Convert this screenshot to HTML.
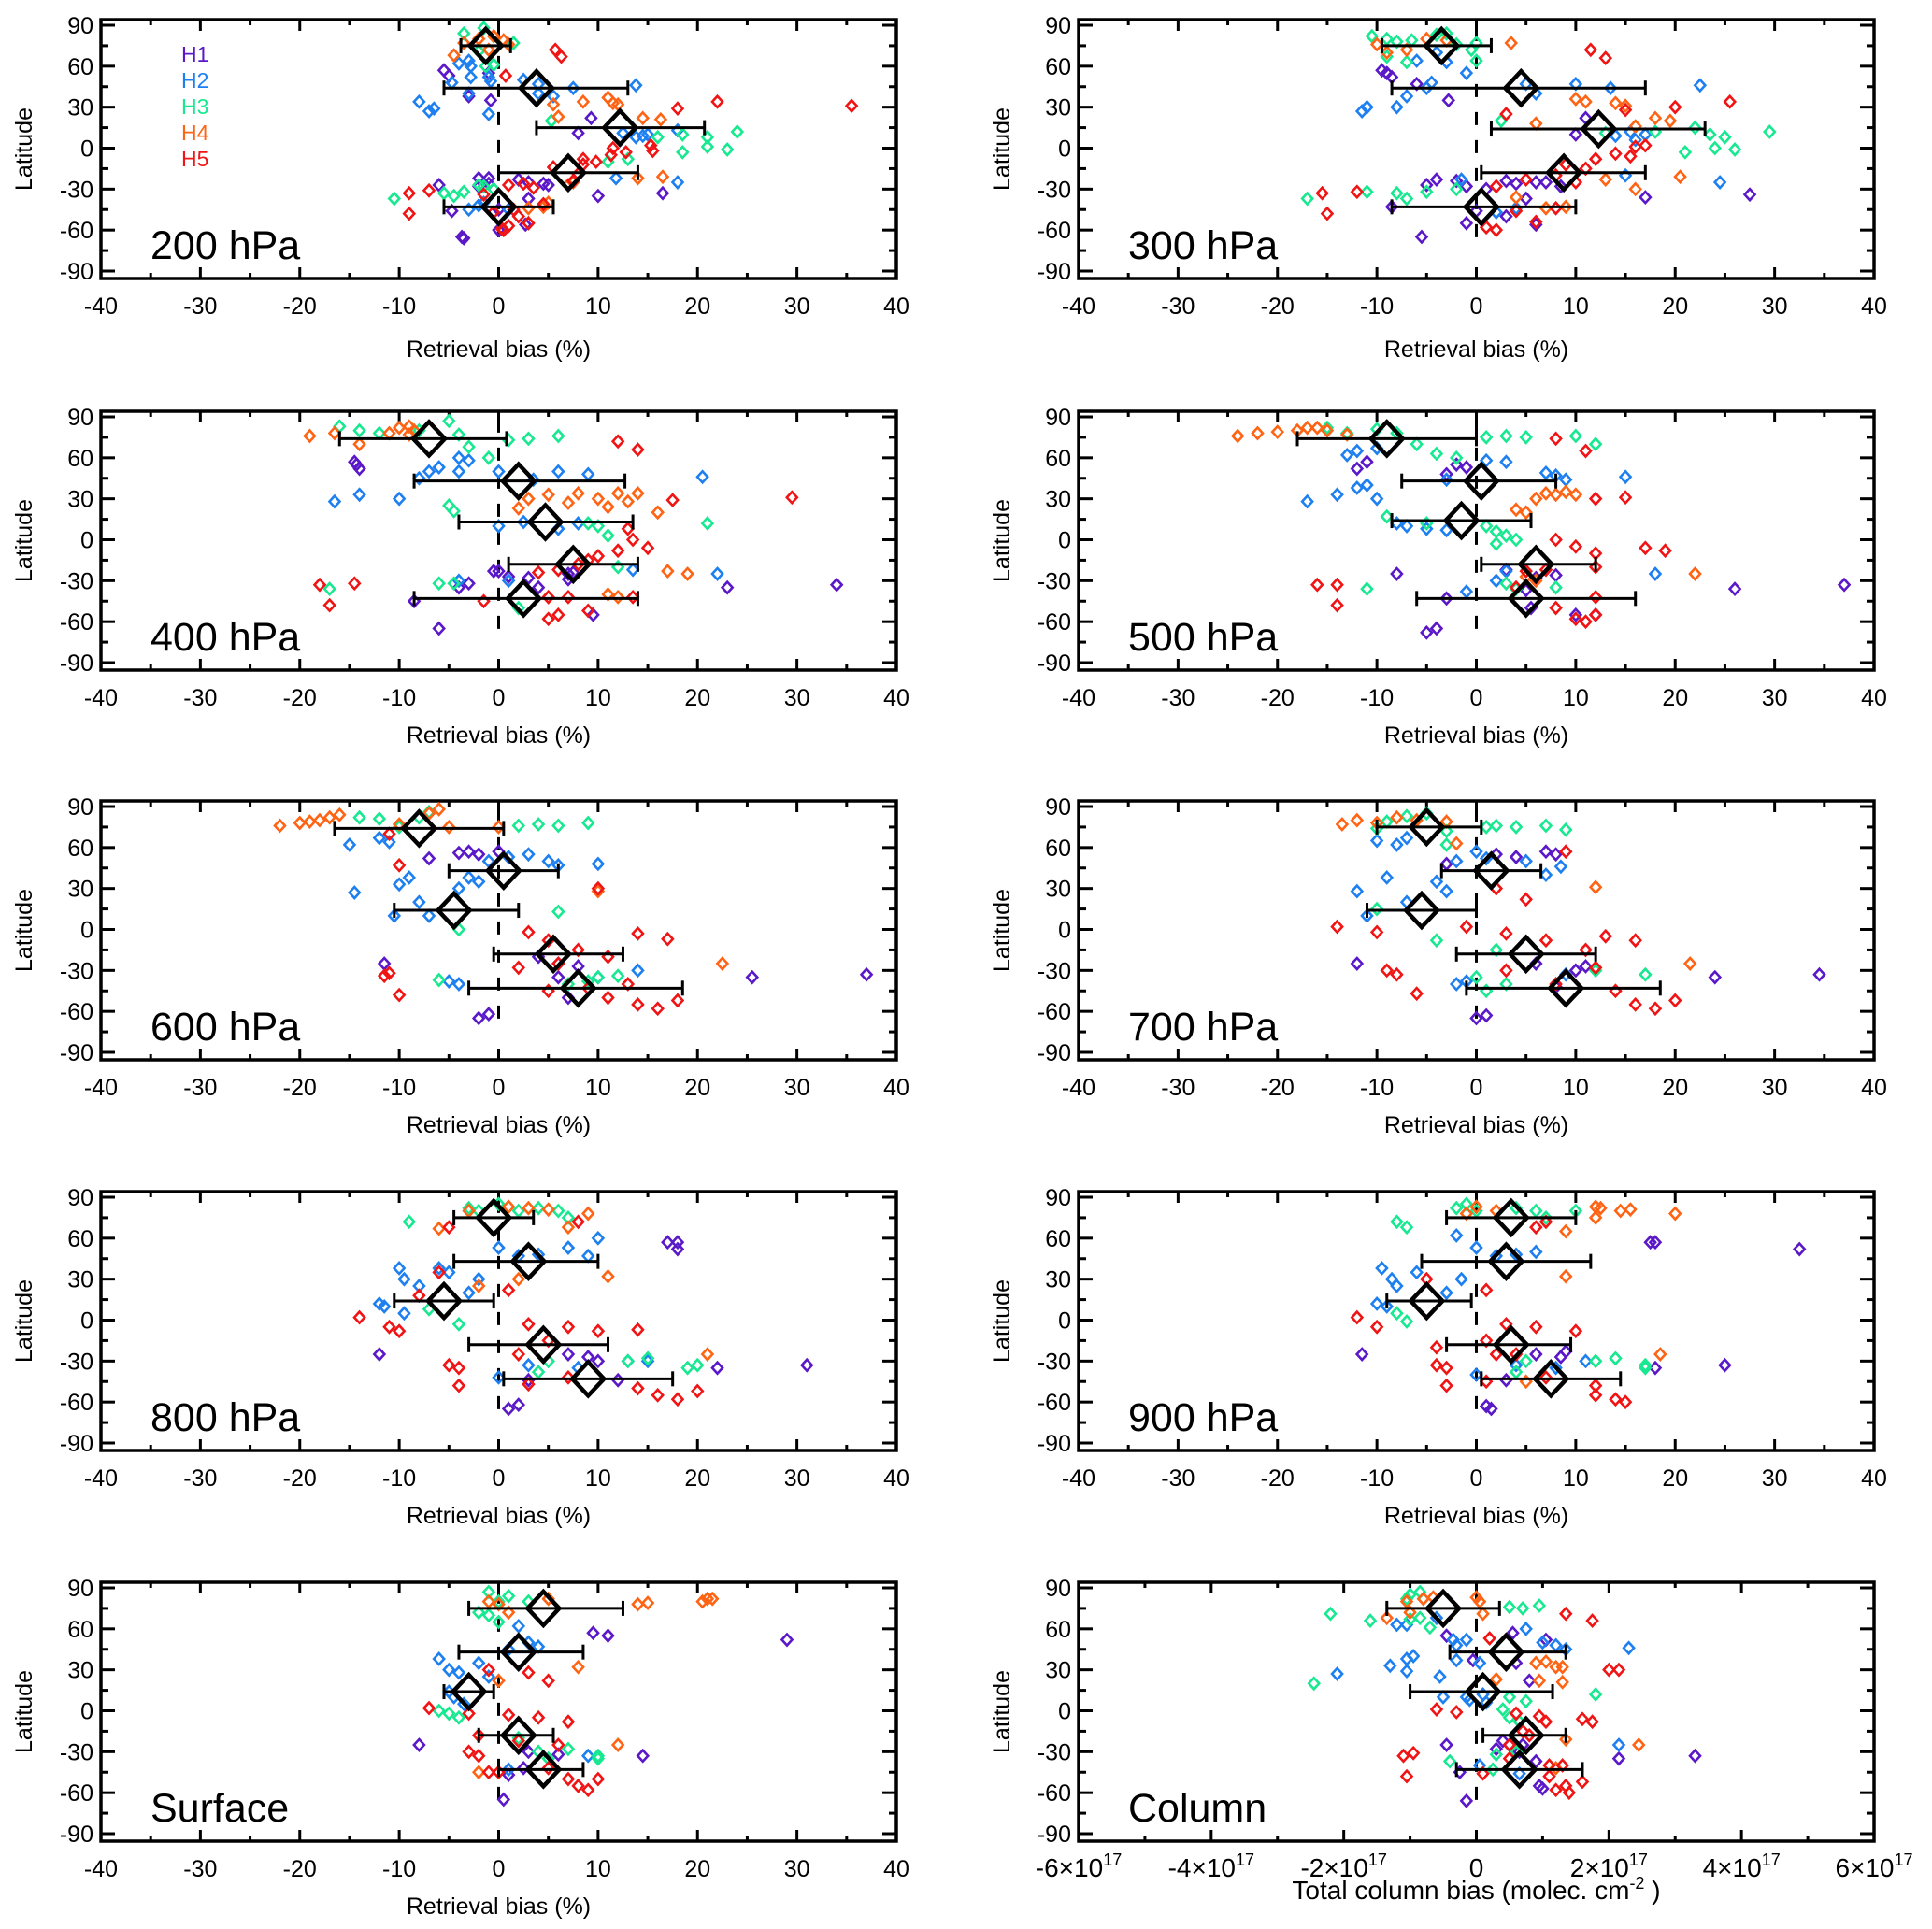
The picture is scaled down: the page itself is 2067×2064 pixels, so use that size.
<!DOCTYPE html>
<html><head><meta charset="utf-8">
<style>
html,body{margin:0;padding:0;background:#fff;}
svg{display:block;font-family:"Liberation Sans",Arial,sans-serif;}
</style></head>
<body>
<svg id="fig" width="2067" height="2064" viewBox="0 0 2067 2064" xmlns="http://www.w3.org/2000/svg"></svg>
<script>
// ---------- data ----------
const seriesNames = ["H1","H2","H3","H4","H5"];
const seriesColors = ["#5a18c8","#1e80f0","#18e890","#ff6414","#f01414"];
const panelTitles = ["200 hPa","300 hPa","400 hPa","500 hPa","600 hPa","700 hPa","800 hPa","900 hPa","Surface","Column"];
const xTicksBias = [-40,-30,-20,-10,0,10,20,30,40];
const xTicksCol = [-6,-4,-2,0,2,4,6];
const yTicks = [90,60,30,0,-30,-60,-90];

// means: [x, lat, errLow, errHigh]
const means200 = [[-1.3,75,-3.8,1.2],[3.8,44,-5.5,13],[12.2,15,3.8,20.7],[7,-18,0,14],[0,-43,-5.5,5.5]];
const h1_200 = [[-5.5,57],[-5,53],[-3,38],[-0.8,35],[-1,55],[9.3,22],[8,11],[-2,-22],[-1,-22],[2,-23],[3,-25],[4.5,-26],[5,-27],[-1,-26],[-6,-27],[-2,-28],[3,-37],[10,-35],[16.5,-33],[-4.7,-46],[0,-45],[2.7,-56],[-3.7,-65],[-3.5,-66],[0,-60]];
const h2_200 = [[-4,62],[-3,64],[-2.8,60],[-2.8,52],[-1,52],[-0.8,49],[-4.7,48],[-3,40],[-8,34],[-7,27],[-6.5,29],[-1,25],[2.5,50],[4,47],[4,40],[5.5,38],[7.5,44],[13.8,46],[12.5,11],[13.8,8],[14.5,9],[15,10],[18,13],[11.8,-22],[18,-25],[-2,-42],[1,-45],[-1.5,-40],[-3,-45]];
const h3_200 = [[-3.5,84],[-1.5,88],[1.5,77],[-1.3,60],[-0.5,61],[-2,71],[5.3,20],[16,8],[18.5,10],[21,8],[21,1],[24,12],[23,-1],[18.5,-3],[13,-8],[11,-10],[-10.5,-37],[-5.5,-33],[-4.5,-35],[-3.5,-32],[-1.5,-28],[-0.5,-30],[-2,-27]];
const h4_200 = [[-4.5,68],[-3.5,77],[-2,80],[-0.5,82],[0.5,79],[1,76],[-1,72],[5.5,32],[8.5,34],[11,37],[11.5,33],[12,32],[6,23],[14.5,22],[16.3,21],[16.5,-21],[14,-22],[7,-27],[7.5,-25],[3,-44],[4.5,-43],[5,-40],[3,-55]];
const h5_200 = [[5.7,72],[6.3,67],[0.7,53],[18,29],[22,34],[35.5,31],[15.3,2],[15.5,-2],[11.5,0],[11.3,-5],[12.8,-3],[8.5,-8],[9.8,-10],[8.5,-12],[5.5,-14],[8,-19],[7.5,-24],[2.5,-26],[1,-27],[3.5,-29],[-9,-33],[-7,-31],[-1.5,-34],[-9,-48],[1,-57],[0.5,-60],[2,-50],[4.5,-41],[-0.5,-47],[1.5,-45],[0.3,-59],[3,-55]];

const means300 = [[-3.5,75,-9.5,1.5],[4.5,44,-8.5,17],[12.3,14,1.5,23],[8.8,-18,0.5,17],[0.5,-43,-8.5,10]];
const h1_300 = [[-9.5,57],[-9,55],[-8.5,52],[-6,47],[-2.8,35],[11,22],[10,10],[17,-36],[27.5,-34],[-5,-27],[-4,-23],[-2,-24],[-1,-28],[1,-30],[3,-24],[4,-26],[6,-25],[7,-25],[8.5,-28],[5,-37],[-8.5,-43],[0,-46],[3,-50],[6,-56],[-5.5,-65],[-1,-55]];
const h2_300 = [[-11,30],[-11.5,27],[-8,30],[-7,38],[-5,44],[-4.5,48],[-6,64],[-4,70],[-3,63],[-1,55],[5,47],[6,40],[10,47],[13.5,44],[22.5,46],[14,9],[15.5,12],[16,6],[17,10],[24.5,-25],[15,-20],[-1.5,-23],[2,-47],[4,-44]];
const h3_300 = [[-10.5,82],[-9,80],[-8,78],[-6.5,79],[-4,83],[-3,84],[-2,76],[0,77],[-0.5,72],[0,64],[-7,63],[-9,67],[2.5,20],[13,11],[18,12],[22,15],[23.5,10],[25,8],[29.5,12],[21,-3],[24,0],[26,-1],[-17,-37],[-11,-32],[-8,-33],[-7,-37],[-5,-32],[-2,-30]];
const h4_300 = [[-10,76],[-9,70],[-7,72],[-5,80],[-3,79],[3.5,77],[10,36],[11,34],[14,33],[15,31],[18,22],[16,16],[19.5,20],[6,18],[20.5,-21],[13,-23],[16,-30],[4,-36],[7,-44],[9,-43]];
const h5_300 = [[11.5,72],[13,66],[3,25],[15,28],[20,30],[25.5,34],[16,1],[17,2],[14,-4],[15.5,-6],[12,-8],[9,-12],[11,-15],[8,-20],[5,-23],[10,-25],[2,-28],[-15.5,-33],[-12,-32],[-15,-48],[6,-54],[1,-58],[2,-60],[8,-44],[4,-46]];

const means400 = [[-7,74,-16,0.8],[2,43,-8.5,12.7],[4.7,13,-4,13.5],[7.5,-18,1,14],[2.5,-43,-8.5,14]];
const h1_400 = [[-14.5,57],[-14,52],[-14.3,55],[-3,-32],[-4,-35],[-0.5,-23],[0,-23],[1,-27],[3,-28],[7,-25],[7.5,-24],[7,-29],[-8.5,-45],[-6,-65],[9.5,-55],[23,-35],[34,-33],[4,-35]];
const h2_400 = [[-16.5,28],[-14,33],[-10,30],[-8,45],[-7,50],[-6,53],[-4,50],[-3,58],[-4,60],[0,50],[3.5,44],[6,50],[9,48],[20.5,46],[0,10],[2.5,13],[6,8],[8,12],[22,-25],[13.5,-22],[-4,-30],[1,-30]];
const h3_400 = [[-16,83],[-14,80],[-12,78],[-8,80],[-5,87],[-4,77],[-3,68],[-1,60],[1,73],[3,74],[6,76],[-5,25],[-4.5,21],[9,12],[10,10],[11,3],[21,12],[-17,-36],[-6,-32],[-4.5,-32],[2,-50],[12,-20]];
const h4_400 = [[-19,76],[-16.5,78],[-14,70],[-11,78],[-10,82],[-9,83],[-8.5,80],[-9,77],[2,23],[3,30],[5,33],[7,27],[8,34],[10,30],[11,24],[12,34],[13,28],[14,34],[16,20],[17,-23],[19,-25],[11,-40],[12,-42],[5,-42]];
const h5_400 = [[12,72],[14,66],[17.5,29],[29.5,31],[13,8],[13.5,0],[15,-6],[12,-8],[10,-12],[9,-15],[8,-18],[6,-22],[4,-24],[-18,-33],[-14.5,-32],[-17,-48],[5,-42],[7,-42],[6,-55],[5,-58],[9,-52],[13.5,-42],[-1.5,-45]];

const means500 = [[-9,74,-18,0],[0.5,43,-7.5,8],[-1.5,14,-8.5,5.5],[6,-18,0.5,12],[5,-43,-6,16]];
const h1_500 = [[-12,52],[-11,57],[-3,48],[-2,55],[-1,53],[-8,-25],[3,-22],[6,-28],[8,-26],[5,-37],[5.5,-50],[-4,-65],[-5,-68],[10,-55],[12,-55],[26,-36],[37,-33],[-3,-43]];
const h2_500 = [[-17,28],[-14,33],[-12,38],[-10,30],[-11,40],[-13,62],[-12,65],[-10,67],[-3,44],[1,58],[3,57],[7,49],[8,47],[9,44],[15,46],[-8,12],[-7,10],[-5,8],[-3,7],[18,-25],[3,-23],[2,-30],[-1,-38]];
const h3_500 = [[-15,82],[-13,78],[-10,81],[-8,78],[-6,70],[-4,63],[-2,60],[1,75],[3,76],[5,75],[10,76],[12,70],[-9,17],[-5,12],[1,10],[2,6],[3,3],[4,0],[2,-3],[-11,-36],[3,-32],[4,-36],[8,-35]];
const h4_500 = [[-24,76],[-22,78],[-20,79],[-18,80],[-17,82],[-16,82],[-15,80],[-13,77],[4,22],[5,20],[6,30],[7,34],[8,33],[9,35],[10,33],[22,-25],[5,-27],[6,-30]];
const h5_500 = [[11,65],[8,74],[12,30],[15,31],[8,0],[10,-5],[12,-10],[17,-6],[19,-8],[12,-20],[7,-22],[5,-23],[-14,-33],[-16,-33],[-14,-48],[10,-58],[11,-60],[12,-55],[8,-50],[12,-42],[4,-35]];

const means600 = [[-8,74,-16.5,0.5],[0.5,43,-5,6],[-4.5,14,-10.5,2],[5.5,-18,-0.5,12.5],[8,-43,-3,18.5]];
const h1_600 = [[-7,52],[-4,56],[-3,57],[-2,55],[0,57],[-2,-65],[-1,-62],[-11.5,-25],[4,-20],[6,-25],[8,-27],[6,-35],[25.5,-35],[37,-33],[7,-50]];
const h2_600 = [[-15,62],[-12,67],[-11,64],[-14.5,27],[-10,33],[-9,38],[-8,20],[-7,10],[-10.5,10],[-4,30],[-3,38],[-2,35],[-1,50],[1,53],[3,55],[5,50],[6,47],[10,48],[-5,-38],[-4,-40],[14,-30],[10,-35]];
const h3_600 = [[-14,82],[-12,81],[-10,75],[-8,82],[-7,86],[2,76],[4,77],[6,76],[9,78],[6,13],[-4,0],[10,-35],[12,-34],[9,-38],[7,-40],[-6,-37]];
const h4_600 = [[-22,76],[-20,78],[-19,79],[-18,80],[-17,82],[-16,84],[-10,77],[-7,85],[-6,88],[-5,75],[0,75],[10,28],[22.5,-25]];
const h5_600 = [[-11,70],[-10,47],[-11,-32],[-11.5,-34],[-10,-48],[3,-2],[5,-8],[8,-15],[11,-20],[14,-3],[17,-7],[6,-25],[13,-40],[14,-55],[16,-58],[18,-52],[10,30],[11,-50],[9,-43],[2,-28],[5,-45]];

const means700 = [[-5,75,-10,0.5],[1.5,43,-3.5,6.5],[-5.5,14,-11,0],[5,-18,-2,12],[9,-43,-1,18.5]];
const h1_700 = [[-3,48],[2,55],[4,53],[7,57],[8,55],[0,-65],[1,-63],[-12,-25],[6,-25],[10,-30],[11,-27],[24,-35],[34.5,-33],[8,-42]];
const h2_700 = [[-10,65],[-8,62],[-7,67],[-12,28],[-11,10],[-9,38],[-7,20],[-4,35],[-3,28],[-2,50],[0,57],[1,52],[5,50],[8.5,46],[7,40],[-2,-40],[-1,-38],[9,-33]];
const h3_700 = [[-10,74],[-9,79],[-7,83],[-5,85],[-3,72],[1,75],[2,76],[4,75],[7,76],[9,73],[-4,-8],[2,-15],[0,-35],[12,-30],[17,-33],[1,-45],[3,-40],[-3,62],[-10,15]];
const h4_700 = [[-13.5,77],[-12,80],[-10,78],[-8,82],[-6,80],[-3,79],[12,31],[21.5,-25],[-2,63]];
const h5_700 = [[-14,2],[-10,-2],[-9,-30],[-8,-33],[-6,-47],[3,-3],[7,-8],[11,-15],[13,-5],[16,-8],[12,-28],[14,-45],[16,-55],[18,-58],[20,-52],[8,-40],[3,-30],[9,57],[2,30],[5,22],[-1,2]];

const means800 = [[-0.5,75,-4.5,3.5],[3,43,-4.5,10],[-5.5,14,-10.5,-0.5],[4.5,-18,-3,11],[9,-43,0.5,17.5]];
const h1_800 = [[17,57],[18,57],[18,52],[-12,-25],[2,-62],[1,-65],[7,-25],[9,-27],[10,-30],[22,-35],[31,-33],[3,-44],[12,-44]];
const h2_800 = [[-10,38],[-9.5,30],[-8,25],[-12,12],[-11.5,10],[-9.5,5],[-6,38],[-5,35],[-3,20],[-2,30],[0,53],[2,47],[4,48],[7,53],[10,60],[9,47],[3,-33],[8,-35],[13,-30],[15,-30],[0,-42]];
const h3_800 = [[-9,72],[-3,82],[-2,80],[0,85],[2,80],[4,82],[6,80],[7,75],[-7,8],[-4,-3],[13,-30],[15,-28],[19,-35],[20,-33],[4,-38],[5,-30]];
const h4_800 = [[-6,67],[-3,80],[1,83],[3,82],[5,81],[7,68],[9,78],[11,32],[21,-25],[2,30],[-2,25]];
const h5_800 = [[-14,2],[-11,-5],[-10,-8],[-8,18],[-5,-33],[-4,-35],[-4,-48],[-6,35],[3,-3],[7,-5],[10,-8],[14,-7],[5,-15],[2,-25],[14,-50],[16,-55],[18,-58],[20,-52],[7,-42],[3,-47],[8,72],[-5,68],[1,22]];

const means900 = [[3.5,75,-3,10],[3,43,-5.5,11.5],[-5,14,-9,-0.5],[3.5,-18,-3,9.5],[7.5,-43,0.5,14.5]];
const h1_900 = [[17.5,57],[18,57],[32.5,52],[-11.5,-25],[1,-63],[1.5,-65],[6,-25],[8.5,-27],[9,-23],[25,-33],[18,-35],[3,-44]];
const h2_900 = [[-9.5,38],[-8.5,30],[-8,25],[-10,12],[-9,10],[-6,35],[-3,20],[-1.5,30],[0,53],[2,47],[4,48],[6,50],[-2,62],[4,-33],[8,-35],[11,-30],[0,-40]];
const h3_900 = [[-8,72],[-7,68],[-2,82],[-1,85],[0,80],[4,82],[6,80],[10,80],[7,75],[-8,5],[-7,-1],[12,-30],[14,-28],[17,-35],[17,-33],[4,-38],[5,-30]];
const h4_900 = [[-1,78],[0,83],[2,80],[12,83],[12.5,82],[14.5,80],[15.5,81],[20,78],[12,75],[9,65],[9,32],[18.5,-25],[5,-45]];
const h5_900 = [[-12,2],[-10,-5],[-4,-33],[-3,-35],[-3,-48],[-4,-20],[3,-3],[6,-5],[10,-8],[1,-15],[2,-25],[12,-55],[14,-58],[15,-60],[12,-48],[7,-42],[1,-45],[7,72],[6,68],[1,22],[-5,30],[4,-25]];

const meansSfc = [[4.5,75,-3,12.5],[2,43,-4,8.5],[-3,14,-5.5,-0.5],[2,-18,-2,5.5],[4.5,-43,0,8.5]];
const h1_sfc = [[9.5,57],[11,55],[29,52],[-8,-25],[0.5,-65],[1,-47],[3,-30],[6,-32],[14.5,-33],[2.5,-42]];
const h2_sfc = [[-6,38],[-5,30],[-4,28],[-5,14],[-4.5,10],[-3.5,5],[-2,35],[1,45],[3,50],[4,47],[2,62],[-1,25],[9,-33],[1,-43]];
const h3_sfc = [[-1,87],[0,80],[1,84],[3,80],[-2,72],[-1,70],[0,65],[-6,0],[-5,-2],[-4,-5],[4,-30],[7,-28],[10,-33],[10,-35],[2,-20],[5,-35]];
const h4_sfc = [[-1,80],[0,78],[5,82],[14,78],[15,79],[20.5,80],[21,82],[21.5,82],[1,72],[8,32],[0,22],[12,-25],[-2,-45]];
const h5_sfc = [[-7,2],[-3,-2],[-3,-30],[-2,-33],[-1,-45],[-2,-18],[1,-3],[4,-5],[7,-8],[2,-22],[6,-25],[7,-50],[8,-55],[9,-58],[10,-50],[5,-42],[0,-45],[5,22],[-1,30],[3,28]];

// column values in units of 1e17 molec cm-2
const meansCol = [[-0.5,75,-1.35,0.35],[0.45,43,-0.4,1.35],[0.1,14,-1,1.15],[0.75,-18,0.1,1.35],[0.65,-43,-0.3,1.6]];
const h1_col = [[0.55,57],[1.05,52],[-0.45,55],[-0.05,37],[0.6,35],[0.8,22],[0.4,-22],[0.5,-25],[0.7,-25],[0.3,-28],[0.9,-37],[2.15,-35],[3.3,-33],[-0.45,-25],[-0.25,-45],[0.95,-55],[1,-57],[-0.15,-66],[0.65,-30]];
const h2_col = [[-1.2,63],[-1.05,63],[-0.6,68],[-0.35,52],[-0.3,48],[-0.15,52],[0.75,60],[1,50],[1.2,48],[1.35,45],[2.3,46],[-1.3,33],[-1.05,38],[-0.95,40],[-1.05,29],[-0.3,37],[0.05,35],[-2.1,27],[-0.55,25],[-0.5,10],[-0.15,10],[-0.1,8],[0.1,12],[0.15,6],[2.15,-25],[0.05,-40],[0.65,-46]];
const h3_col = [[-2.2,71],[-1.6,66],[-1,67],[-0.7,61],[-0.85,68],[-1.05,82],[-1,85],[-0.85,87],[0.5,76],[0.7,75],[0.95,77],[-2.45,20],[1.8,12],[0.5,10],[0.75,7],[0.4,1],[0.5,-5],[0.65,-8],[0.3,-32],[-0.4,-37],[0.25,-43],[0.6,-30]];
const h4_col = [[-1.35,68],[-1,72],[-1.05,80],[-0.8,82],[-0.65,83],[0,83],[0.05,80],[0.1,71],[1.05,36],[1.2,32],[0.9,35],[1.3,32],[0.95,22],[1.3,21],[0.3,23],[1.35,-21],[2.45,-25],[1.2,-42]];
const h5_col = [[1.35,71],[1.75,66],[0.2,53],[2,30],[2.15,30],[-0.6,1],[-0.3,-1],[0.6,-2],[0.95,-4],[1.05,-8],[1.6,-6],[1.75,-8],[0.7,-15],[0.8,-18],[0.5,-25],[-1.1,-33],[-0.95,-31],[-1.05,-48],[0.1,-46],[1.1,-40],[1.3,-40],[1.1,-48],[1.2,-58],[1.4,-60],[1.35,-55],[1.6,-52],[0.5,-35]];

const panelSeries = [
 [h1_200,h2_200,h3_200,h4_200,h5_200],[h1_300,h2_300,h3_300,h4_300,h5_300],
 [h1_400,h2_400,h3_400,h4_400,h5_400],[h1_500,h2_500,h3_500,h4_500,h5_500],
 [h1_600,h2_600,h3_600,h4_600,h5_600],[h1_700,h2_700,h3_700,h4_700,h5_700],
 [h1_800,h2_800,h3_800,h4_800,h5_800],[h1_900,h2_900,h3_900,h4_900,h5_900],
 [h1_sfc,h2_sfc,h3_sfc,h4_sfc,h5_sfc],[h1_col,h2_col,h3_col,h4_col,h5_col]];
const panelMeans = [means200,means300,means400,means500,means600,means700,means800,means900,meansSfc,meansCol];

// ---------- drawing ----------
const NS = "http://www.w3.org/2000/svg";
const svg = document.getElementById("fig");
function mk(tag, attrs, parent){
  const e = document.createElementNS(NS, tag);
  for (const k in attrs) e.setAttribute(k, attrs[k]);
  (parent||svg).appendChild(e);
  return e;
}
const rowTops = [21,440,857,1275,1693];
const colX = [[108,959],[1154,2005]];
const BOXH = 277;

panelTitles.forEach((title, p) => {
  const col = p % 2, row = Math.floor(p/2);
  const isCol = p === 9;
  const x0 = colX[col][0], x1 = colX[col][1];
  const top = rowTops[row], bot = top + BOXH;
  const xmin = isCol ? -6 : -40, xmax = isCol ? 6 : 40;
  const xs = v => x0 + (v - xmin) / (xmax - xmin) * (x1 - x0);
  const ys = v => (top + 6) + (90 - v) / 180 * (BOXH - 14);

  const g = mk("g", {});
  
  

  // ticks
  const tg = mk("g", {stroke:"#000","stroke-width":3}, g);
  
  
  const xstep = isCol ? 1 : 5;
  for (let v = xmin; v <= xmax + 1e-9; v += xstep) {
    const major = isCol ? (Math.round(v) % 2 === 0) : (Math.round(v) % 10 === 0);
    const L = major ? 12 : 6;
    mk("line",{x1:xs(v),x2:xs(v),y1:bot,y2:bot-L},tg);
    mk("line",{x1:xs(v),x2:xs(v),y1:top,y2:top+L},tg);
  }
  for (let v = -90; v <= 90; v += 15) {
    const L = (v % 30 === 0) ? 15 : 8;
    mk("line",{x1:x0,x2:x0+L,y1:ys(v),y2:ys(v)},tg);
    mk("line",{x1:x1,x2:x1-L,y1:ys(v),y2:ys(v)},tg);
  }
  // frame
  const fr = mk("rect",{x:x0,y:top,width:x1-x0,height:BOXH,fill:"none",stroke:"#000","stroke-width":3.5},g);
  
  

  // y tick labels
  yTicks.forEach(v => {
    const t = mk("text",{x:x0-8,y:ys(v)+9,"text-anchor":"end","font-size":25},g);
    t.textContent = String(v);
    
    
  });
  // x tick labels
  const xt = isCol ? xTicksCol : xTicksBias;
  xt.forEach(v => {
    const t = mk("text",{x:xs(v),y:bot+38,"text-anchor":"middle","font-size":isCol?28:25},g);
    if (isCol && v !== 0) {
      t.textContent = v + "\u00d710";
      const s = mk("tspan",{"font-size":18,dy:-12},t);
      s.textContent = "17";
    } else {
      t.textContent = String(v);
    }
    
    
  });
  // axis titles
  const yl = mk("text",{x:0,y:0,"text-anchor":"middle","font-size":25,transform:`translate(${x0-74},${top+BOXH/2}) rotate(-90)`},g);
  yl.textContent = "Latitude";
  
  
  const xl = mk("text",{x:(x0+x1)/2,y:isCol ? bot+62 : bot+84 - (row>0?6:0),"text-anchor":"middle","font-size":isCol?28:25},g);
  if (isCol) {
    xl.textContent = "Total column bias (molec. cm";
    const s = mk("tspan",{"font-size":18,dy:-11},xl); s.textContent = "-2";
    const s2 = mk("tspan",{dy:11},xl); s2.textContent = " )";
  } else xl.textContent = "Retrieval bias (%)";
  
  

  // panel title
  const pt = mk("text",{x:x0+53,y:top+256,"font-size":43},g);
  pt.textContent = title;
  
  

  // zero dashed line
  const zl = mk("line",{x1:xs(0),x2:xs(0),y1:ys(88),y2:ys(-66),stroke:"#000","stroke-width":3,"stroke-dasharray":"14 16"},g);
  
  

  // points
  panelSeries[p].forEach((pts, si) => {
    const sg = mk("g",{fill:"none",stroke:seriesColors[si],"stroke-width":2.6},g);
    
    
    pts.forEach(d => {
      const cx = xs(d[0]), cy = ys(d[1]);
      const pp = mk("path",{d:`M${cx},${cy-6}L${cx+5.5},${cy}L${cx},${cy+6}L${cx-5.5},${cy}Z`},sg);
      
      
    });
  });

  // means + error bars
  panelMeans[p].forEach(m => {
    const cy = ys(m[1]);
    const eg = mk("g",{stroke:"#000",fill:"none"},g);
    
    
    mk("line",{x1:xs(m[2]),x2:xs(m[3]),y1:cy,y2:cy,"stroke-width":3},eg);
    mk("line",{x1:xs(m[2]),x2:xs(m[2]),y1:cy-8,y2:cy+8,"stroke-width":3},eg);
    mk("line",{x1:xs(m[3]),x2:xs(m[3]),y1:cy-8,y2:cy+8,"stroke-width":3},eg);
    const cx = xs(m[0]);
    mk("path",{d:`M${cx},${cy-18}L${cx+17},${cy}L${cx},${cy+18}L${cx-17},${cy}Z`,"stroke-width":4.5},eg);
  });

  // legend on first panel
  if (p === 0) {
    seriesNames.forEach((n, i) => {
      const t = mk("text",{x:194,y:66+i*28,"font-size":23,fill:seriesColors[i]},g);
      t.textContent = n;
      
      
    });
  }
});
</script>
</body></html>
